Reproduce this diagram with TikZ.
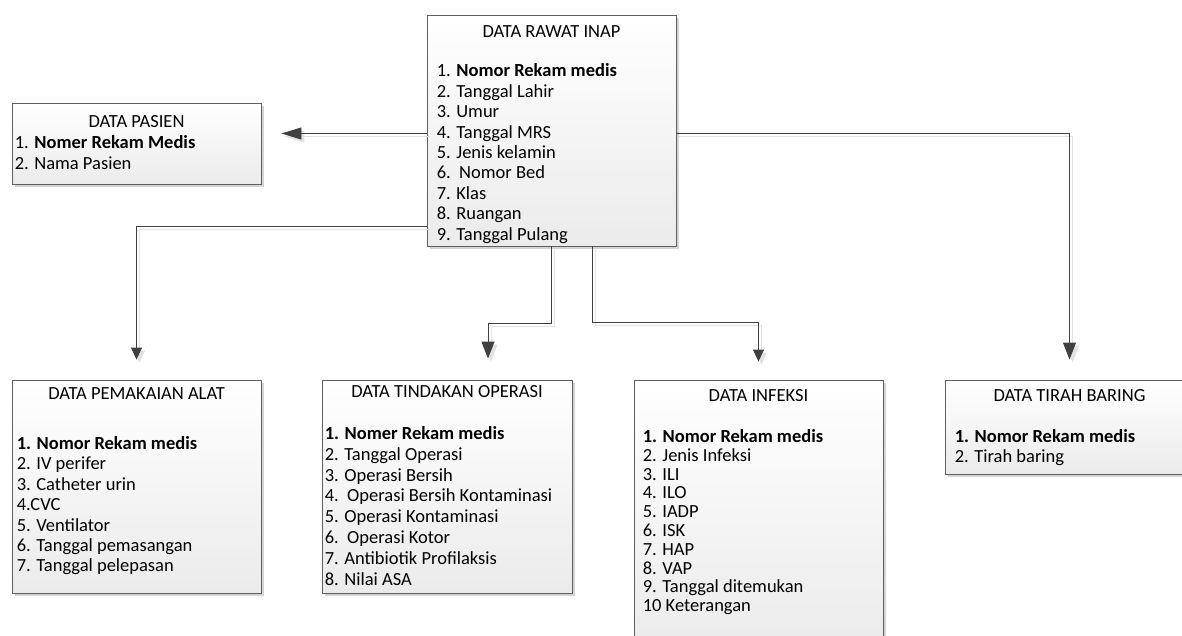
\documentclass[tikz,border=0pt]{standalone}
\usepackage{fontspec}
\setmainfont{Carlito}
\usetikzlibrary{calc,shadows,arrows.meta}
\definecolor{linec}{HTML}{404040}
\definecolor{boxline}{HTML}{5F5F5F}
\definecolor{boxbot}{HTML}{EBEBEB}
\definecolor{shad}{HTML}{D4D4D4}
\definecolor{lshad}{HTML}{E2E2E2}
\newcommand{\fsz}[1]{\fontsize{18.5}{#1}\selectfont}
\tikzset{
  box/.style={draw=boxline, line width=0.9pt, top color=white, bottom color=boxbot,
    inner sep=0pt, drop shadow={shadow xshift=3pt, shadow yshift=-3pt, fill=shad, opacity=1}},
  title/.style={anchor=base, inner sep=0pt, font=\fsz{20.4}},
  list/.style={anchor=base west, inner sep=0pt, font=\fsz{20.4}},
  conn/.style={draw=linec, line width=0.9pt},
  connsh/.style={draw=lshad, line width=1pt, transform canvas={shift={(3pt,-3pt)}}},
  bighead/.style={-{Triangle[length=17pt,width=13pt]}},
  smallhead/.style={-{Triangle[length=12pt,width=11pt]}},
  sidehead/.style={-{Triangle[length=20pt,width=12pt]}},
}
\begin{document}
\begin{tikzpicture}[x=1pt,y=-1pt]
\useasboundingbox (0,0) rectangle (1182,636);

% boxes
\node[box, minimum width=249pt, minimum height=231pt] (inap) at (551.5,130.5) {};
\node[box, minimum width=249pt, minimum height=81pt] (pasien) at (136.5,143.5) {};
\node[box, minimum width=249pt, minimum height=213pt] (alat) at (136.5,486.5) {};
\node[box, minimum width=250pt, minimum height=213pt] (operasi) at (447,486.5) {};
\node[box, minimum width=249pt, minimum height=270pt] (infeksi) at (758.5,515) {};
\node[box, minimum width=249pt, minimum height=94pt] (tirah) at (1069.5,427) {};

% texts
\node[title] (inapT) at ($(inap.north)+(0,22.7)$) {DATA RAWAT INAP};
\node[list] (inapL) at ($(inap.north west)+(10,62.3)$) {\begin{tabular}[t]{@{}l@{}}
1. \textbf{Nomor Rekam medis}\\
2. Tanggal Lahir\\
3. Umur\\
4. Tanggal MRS\\
5. Jenis kelamin\\
6.\ \ Nomor Bed\\
7. Klas\\
8. Ruangan\\
9. Tanggal Pulang
\end{tabular}};

\node[title] (pasienT) at ($(pasien.north)+(0,24.7)$) {DATA PASIEN};
\node[list, font=\fsz{20.8}] (pasienL) at ($(pasien.north west)+(3,46.3)$) {\begin{tabular}[t]{@{}l@{}}
1. \textbf{Nomer Rekam Medis}\\
2. Nama Pasien
\end{tabular}};

\node[title] (alatT) at ($(alat.north)+(0,20)$) {DATA PEMAKAIAN ALAT};
\node[list] (alatL) at ($(alat.north west)+(5,70)$) {\begin{tabular}[t]{@{}l@{}}
\textbf{1. Nomor Rekam medis}\\
2. IV perifer\\
3. Catheter urin\\
4.CVC\\
5. Ventilator\\
6. Tanggal pemasangan\\
7. Tanggal pelepasan
\end{tabular}};

\node[title] (operasiT) at ($(operasi.north)+(0,18.3)$) {DATA TINDAKAN OPERASI};
\node[list, font=\fsz{20.8}] (operasiL) at ($(operasi.north west)+(3,60)$) {\begin{tabular}[t]{@{}l@{}}
\textbf{1. Nomer Rekam medis}\\
2. Tanggal Operasi\\
3. Operasi Bersih\\
4.\ \ Operasi Bersih Kontaminasi\\
5. Operasi Kontaminasi\\
6.\ \ Operasi Kotor\\
7. Antibiotik Profilaksis\\
8. Nilai ASA
\end{tabular}};

\node[title] (infeksiT) at ($(infeksi.north)+(0,21.7)$) {DATA INFEKSI};
\node[list, font=\fsz{18.8}] (infeksiL) at ($(infeksi.north west)+(9,63)$) {\begin{tabular}[t]{@{}l@{}}
\textbf{1. Nomor Rekam medis}\\
2. Jenis Infeksi\\
3. ILI\\
4. ILO\\
5. IADP\\
6. ISK\\
7. HAP\\
8. VAP\\
9. Tanggal ditemukan\\
10 Keterangan
\end{tabular}};

\node[title] (tirahT) at ($(tirah.north)+(0,21.7)$) {DATA TIRAH BARING};
\node[list] (tirahL) at ($(tirah.north west)+(10,63)$) {\begin{tabular}[t]{@{}l@{}}
\textbf{1. Nomor Rekam medis}\\
2. Tirah baring
\end{tabular}};

% arrow end points
\coordinate (tP) at ($(pasien.east)+(20,-10)$);
\coordinate (tA) at ($(alat.north)+(0,-20)$);
\coordinate (tO) at ($(operasi.north)+(41,-21)$);
\coordinate (tI) at ($(infeksi.north)+(0,-18)$);
\coordinate (tT) at ($(tirah.north)+(0,-20)$);
\coordinate (sA) at ($(inap.south west)+(0,-20)$);
\coordinate (sO) at (inap.south);
\coordinate (sI) at ($(inap.south)+(40.5,0)$);

% connector shadows
\draw[connsh, sidehead] (inap.west |- tP) -- (tP);
\draw[connsh, smallhead] (sA) -| (tA);
\draw[connsh, bighead] (sO) -- ++(0,77) -| (tO);
\draw[connsh, smallhead] (sI) -- ++(0,76) -| (tI);
\draw[connsh, bighead] (inap.east |- tP) -| (tT);

% connectors
\draw[conn, sidehead] (inap.west |- tP) -- (tP);
\draw[conn, smallhead] (sA) -| (tA);
\draw[conn, bighead] (sO) -- ++(0,77) -| (tO);
\draw[conn, smallhead] (sI) -- ++(0,76) -| (tI);
\draw[conn, bighead] (inap.east |- tP) -| (tT);
\end{tikzpicture}
\end{document}
